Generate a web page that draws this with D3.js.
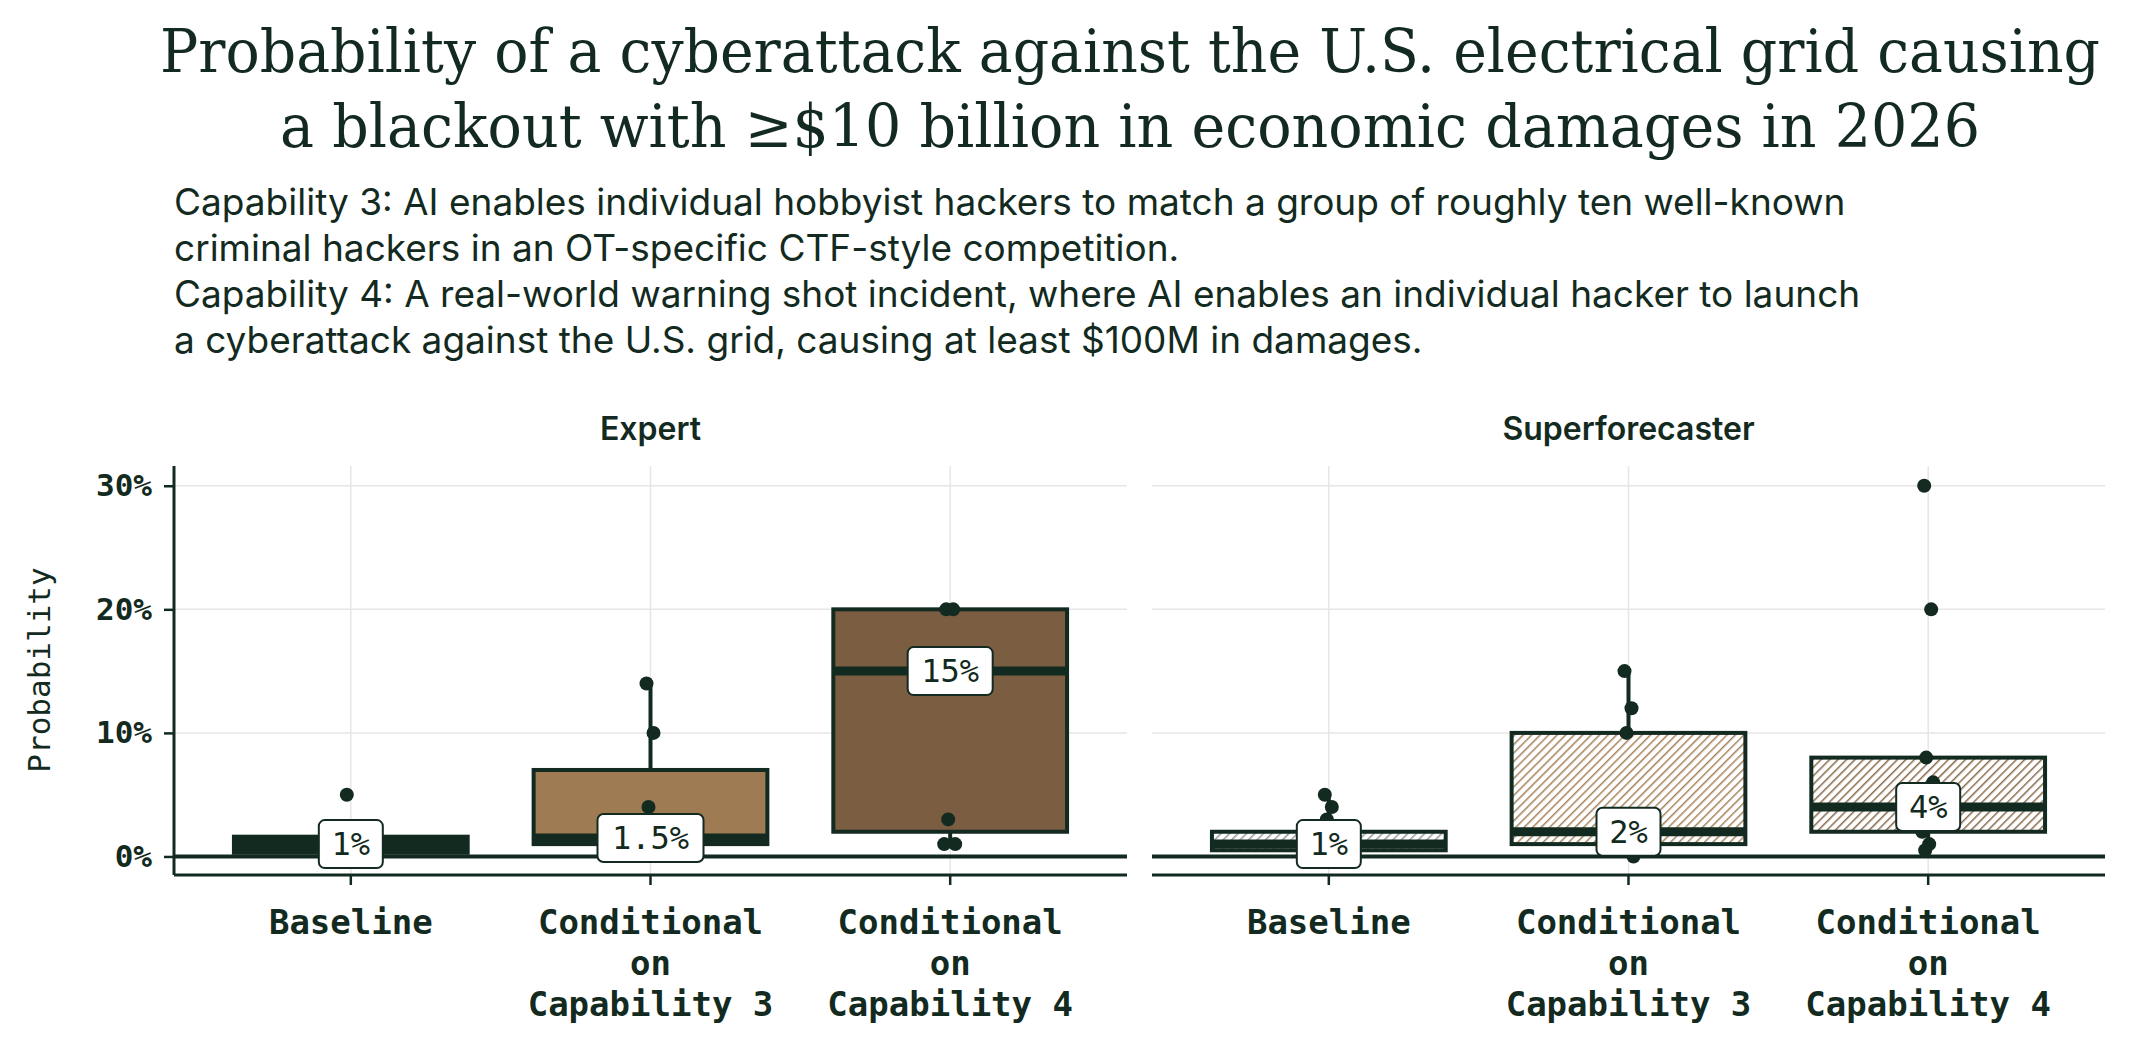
<!DOCTYPE html>
<html><head><meta charset="utf-8">
<script src="https://cdn.jsdelivr.net/npm/d3@7"></script>
<style>body{margin:0;background:#fff}</style>
</head><body><div id="chart"></div>
<script>
// data
var panels = ["Expert", "Superforecaster"];
var categories = ["Baseline", "Conditional\non\nCapability 3", "Conditional\non\nCapability 4"];
var q1 = [[0.3, 1, 2], [0.5, 1, 2]];
var medians = [[1, 1.5, 15], [1, 2, 4]];
var q3 = [[1.6, 7, 20], [2, 10, 8]];
var whiskerLow = [[0.3, 1, 1], [0.5, 0, 0.5]];
var whiskerHigh = [[1.6, 14, 20], [5, 15, 8]];
var medianLabels = [["1%", "1.5%", "15%"], ["1%", "2%", "4%"]];
var points = [
  [[5], [14, 10, 4], [20, 20, 3, 1, 1]],
  [[5, 4, 3], [15, 12, 10, 0], [30, 20, 8, 6, 2, 1, 0.5]]
];
var yTicks = [0, 10, 20, 30];

var dark = "#132a21";
var fills = [["#132a21", "#9e7b52", "#7b5d42"], ["url(#hatchGrey)", "url(#hatchTan)", "url(#hatchBrown)"]];

var W = 2130, H = 1050;
var svg = d3.select("#chart").append("svg").attr("width", W).attr("height", H);

// hatch patterns
var defs = svg.append("defs");
function hatch(id, bg, fg) {
  var p = defs.append("pattern").attr("id", id).attr("patternUnits", "userSpaceOnUse")
    .attr("width", 6).attr("height", 6).attr("patternTransform", "rotate(45)");
  p.append("rect").attr("width", 6).attr("height", 6).attr("fill", bg);
  p.append("line").attr("x1", 0).attr("y1", 0).attr("x2", 0).attr("y2", 6)
    .attr("stroke", fg).attr("stroke-width", 3);
}
hatch("hatchGrey", "#ffffff", "#9a9a9a");
hatch("hatchTan", "#ffffff", "#a5825c");
hatch("hatchBrown", "#ffffff", "#8a6a4c");

// titles
var serif = "'DejaVu Serif', 'Liberation Serif', serif";
var sans = "Inter, 'Noto Sans', sans-serif";
var mono = "'DejaVu Sans Mono', 'Liberation Mono', monospace";
svg.append("text").attr("x", 1130).attr("y", 72).attr("text-anchor", "middle")
  .style("font-family", serif).style("font-size", "60px").style("font-weight", 300).attr("fill", dark)
  .attr("textLength", 1940).attr("lengthAdjust", "spacingAndGlyphs")
  .text("Probability of a cyberattack against the U.S. electrical grid causing");
svg.append("text").attr("x", 1130).attr("y", 147).attr("text-anchor", "middle")
  .style("font-family", serif).style("font-size", "60px").attr("fill", dark)
  .attr("textLength", 1700).attr("lengthAdjust", "spacingAndGlyphs")
  .text("a blackout with \u2265$10 billion in economic damages in 2026");
var sub = [
  "Capability 3: AI enables individual hobbyist hackers to match a group of roughly ten well-known",
  "criminal hackers in an OT-specific CTF-style competition.",
  "Capability 4: A real-world warning shot incident, where AI enables an individual hacker to launch",
  "a cyberattack against the U.S. grid, causing at least $100M in damages."
];
sub.forEach(function(s, i) {
  svg.append("text").attr("x", 174).attr("y", 215 + i * 46)
    .style("font-family", sans).style("font-size", "37px").attr("fill", dark).text(s);
});

var y = d3.scaleLinear().domain([-1.5, 31.6]).range([875, 466]);
var panelX = [[174, 1127], [1152, 2105]];

panels.forEach(function(name, pi) {
  var x = d3.scaleBand().domain(categories).range(panelX[pi]).paddingInner(0.22).paddingOuter(0.2);
  var g = svg.append("g");
  var cx = function(c) { return x(c) + x.bandwidth() / 2; };

  g.append("text").attr("x", (panelX[pi][0] + panelX[pi][1]) / 2).attr("y", 440)
    .attr("text-anchor", "middle").style("font-family", sans).style("font-size", "32px")
    .style("font-weight", 600).attr("fill", dark).text(name);

  // grid
  yTicks.forEach(function(t) {
    g.append("line").attr("x1", panelX[pi][0]).attr("x2", panelX[pi][1])
      .attr("y1", y(t)).attr("y2", y(t)).attr("stroke", "#e6e6e6").attr("stroke-width", 1.5);
  });
  categories.forEach(function(c) {
    g.append("line").attr("x1", cx(c)).attr("x2", cx(c)).attr("y1", 466).attr("y2", 875)
      .attr("stroke", "#e6e6e6").attr("stroke-width", 1.5);
  });

  // axes
  g.append("g").attr("transform", "translate(0,875)")
    .call(d3.axisBottom(x).tickSize(10).tickFormat(""))
    .call(function(a) {
      a.select(".domain").attr("stroke", dark).attr("stroke-width", 3).attr("d", "M" + panelX[pi][0] + ",0H" + panelX[pi][1]);
      a.selectAll("line").attr("stroke", dark).attr("stroke-width", 2.5);
    });
  if (pi === 0) {
    g.append("g").attr("transform", "translate(174,0)")
      .call(d3.axisLeft(y).tickValues(yTicks).tickSize(10).tickPadding(12).tickFormat(function(d) { return d + "%"; }))
      .call(function(a) {
        a.select(".domain").attr("stroke", dark).attr("stroke-width", 3).attr("d", "M0,466V875");
        a.selectAll("line").attr("stroke", dark).attr("stroke-width", 2.5);
        a.selectAll("text").style("font-family", mono).style("font-size", "31px")
          .style("font-weight", "bold").attr("fill", dark);
      });
    g.append("text").attr("transform", "translate(50,670) rotate(-90)").attr("text-anchor", "middle")
      .style("font-family", mono).style("font-size", "31px").attr("fill", dark).text("Probability");
  }

  // category labels
  categories.forEach(function(c) {
    c.split("\n").forEach(function(line, li) {
      g.append("text").attr("x", cx(c)).attr("y", 934 + li * 41).attr("text-anchor", "middle")
        .style("font-family", mono).style("font-size", "34px").style("font-weight", "bold")
        .attr("fill", dark).text(line);
    });
  });

  // zero line
  g.append("line").attr("x1", panelX[pi][0]).attr("x2", panelX[pi][1])
    .attr("y1", y(0)).attr("y2", y(0)).attr("stroke", dark).attr("stroke-width", 4);

  categories.forEach(function(c, ci) {
    var xc = cx(c);
    g.append("line").attr("x1", xc).attr("x2", xc).attr("y1", y(whiskerLow[pi][ci])).attr("y2", y(whiskerHigh[pi][ci]))
      .attr("stroke", dark).attr("stroke-width", 4);
    g.append("rect").attr("x", x(c)).attr("width", x.bandwidth())
      .attr("y", y(q3[pi][ci])).attr("height", y(q1[pi][ci]) - y(q3[pi][ci]))
      .attr("fill", fills[pi][ci]).attr("stroke", dark).attr("stroke-width", 4);
    g.append("line").attr("x1", x(c)).attr("x2", x(c) + x.bandwidth())
      .attr("y1", y(medians[pi][ci])).attr("y2", y(medians[pi][ci])).attr("stroke", dark).attr("stroke-width", 9);
    points[pi][ci].forEach(function(v, k) {
      var jit = [-4, 3, -2, 5, -6, 1, -3][k];
      g.append("circle").attr("cx", xc + jit).attr("cy", y(v)).attr("r", 7).attr("fill", dark);
    });
    // median label
    var lab = medianLabels[pi][ci];
    var tw = lab.length * 21 + 22;
    var ly = Math.min(y(medians[pi][ci]), y(0) - 12);
    g.append("rect").attr("x", xc - tw / 2).attr("y", ly - 24).attr("width", tw).attr("height", 48)
      .attr("rx", 6).attr("fill", "#fff").attr("stroke", dark).attr("stroke-width", 2);
    g.append("text").attr("x", xc).attr("y", ly + 11).attr("text-anchor", "middle")
      .style("font-family", mono).style("font-size", "32px").attr("fill", dark).text(lab);
  });
});
</script></body></html>
